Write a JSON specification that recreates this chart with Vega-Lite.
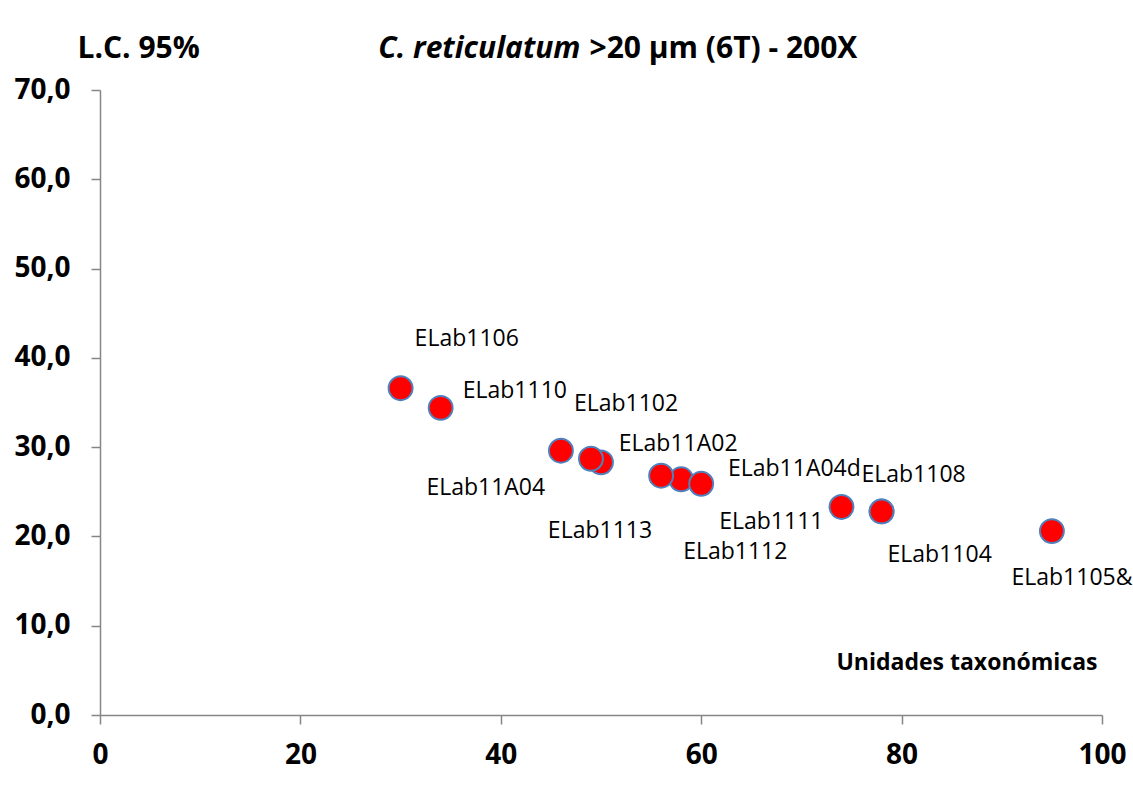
{
  "$schema": "https://vega.github.io/schema/vega-lite/v6.json",
  "width": 1002,
  "height": 625,
  "autosize": {"type": "none"},
  "padding": {"left": 100, "top": 90, "right": 31, "bottom": 81},
  "background": "white",
  "config": {"view": {"stroke": null}, "font": "Open Sans"},
  "data": {"values": [
    {"x": 30, "y": 36.6, "label": "ELab1106", "lx": 36.6, "ly": 42.1},
    {"x": 34, "y": 34.4, "label": "ELab1110", "lx": 41.4, "ly": 36.3},
    {"x": 46, "y": 29.6, "label": "ELab11A04", "lx": 38.5, "ly": 25.4},
    {"x": 50, "y": 28.3, "label": "ELab11A02", "lx": 57.7, "ly": 30.4},
    {"x": 49, "y": 28.7, "label": "ELab1102", "lx": 52.5, "ly": 34.8},
    {"x": 58, "y": 26.4, "label": "ELab1112", "lx": 63.4, "ly": 18.3},
    {"x": 56, "y": 26.8, "label": "ELab1113", "lx": 49.9, "ly": 20.6},
    {"x": 60, "y": 25.9, "label": "ELab11A04d", "lx": 69.3, "ly": 27.6},
    {"x": 74, "y": 23.3, "label": "ELab1111", "lx": 67.0, "ly": 21.6},
    {"x": 78, "y": 22.8, "label": "ELab1108", "lx": 81.2, "ly": 26.9},
    {"x": 78, "y": 22.8, "label": "ELab1104", "lx": 83.8, "ly": 17.9},
    {"x": 95, "y": 20.6, "label": "ELab1105&", "lx": 97.0, "ly": 15.4}
  ]},
  "layer": [
    {
      "mark": {"type": "circle", "fill": "#FF0000", "stroke": "#4F81BD", "strokeWidth": 2, "size": 570, "opacity": 1, "fillOpacity": 1},
      "encoding": {
        "x": {"field": "x", "type": "quantitative", "scale": {"domain": [0, 100], "nice": false, "zero": true},
          "axis": {"orient": "bottom", "values": [0, 20, 40, 60, 80, 100], "grid": false,
            "title": "Unidades taxonómicas", "titleX": 997, "titleY": -53, "titleAlign": "right", "titleBaseline": "middle",
            "titleFont": "Open Sans", "titleFontSize": 23, "titleFontWeight": "bold", "titleColor": "black",
            "labelFont": "Open Sans", "labelFontSize": 28, "labelFontWeight": "bold", "labelColor": "black",
            "labelPadding": 17, "labelFlush": false, "labelOverlap": false,
            "tickSize": 9, "tickColor": "#868686", "tickWidth": 1.5, "domainColor": "#868686", "domainWidth": 1.5}},
        "y": {"field": "y", "type": "quantitative", "scale": {"domain": [0, 70], "nice": false, "zero": true},
          "axis": {"orient": "left", "values": [0, 10, 20, 30, 40, 50, 60, 70], "grid": false,
            "labelExpr": "replace(format(datum.value, '.1f'), '.', ',')",
            "title": "L.C. 95%", "titleAngle": 0, "titleX": -23, "titleY": -33, "titleAlign": "left", "titleBaseline": "alphabetic",
            "titleFont": "Open Sans", "titleFontSize": 30, "titleFontWeight": "bold", "titleColor": "black",
            "labelFont": "Open Sans", "labelFontSize": 28, "labelFontWeight": "bold", "labelColor": "black",
            "labelPadding": 21, "labelFlush": false, "labelOverlap": false,
            "tickSize": 9, "tickColor": "#868686", "tickWidth": 1.5, "domainColor": "#868686", "domainWidth": 1.5}}
      }
    },
    {
      "mark": {"type": "text", "font": "Open Sans", "fontSize": 23, "align": "center", "baseline": "middle", "color": "black"},
      "encoding": {
        "x": {"field": "lx", "type": "quantitative", "scale": {"domain": [0, 100], "nice": false, "zero": true},
          "axis": {"orient": "top", "grid": false, "domain": false, "ticks": false, "labels": false,
            "title": "C. reticulatum", "titleX": 480, "titleY": -33, "titleAlign": "right", "titleBaseline": "alphabetic",
            "titleFont": "Open Sans", "titleFontSize": 30, "titleFontWeight": "bold", "titleFontStyle": "italic", "titleColor": "black"}},
        "y": {"field": "ly", "type": "quantitative", "scale": {"domain": [0, 70], "nice": false, "zero": true},
          "axis": {"orient": "right", "grid": false, "domain": false, "ticks": false, "labels": false,
            "title": ">20 µm (6T) - 200X", "titleAngle": 0, "titleX": -513, "titleY": -33, "titleAlign": "left", "titleBaseline": "alphabetic",
            "titleFont": "Open Sans", "titleFontSize": 30, "titleFontWeight": "bold", "titleColor": "black"}},
        "text": {"field": "label", "type": "nominal"}
      }
    }
  ],
  "resolve": {"axis": {"x": "independent", "y": "independent"}}
}
